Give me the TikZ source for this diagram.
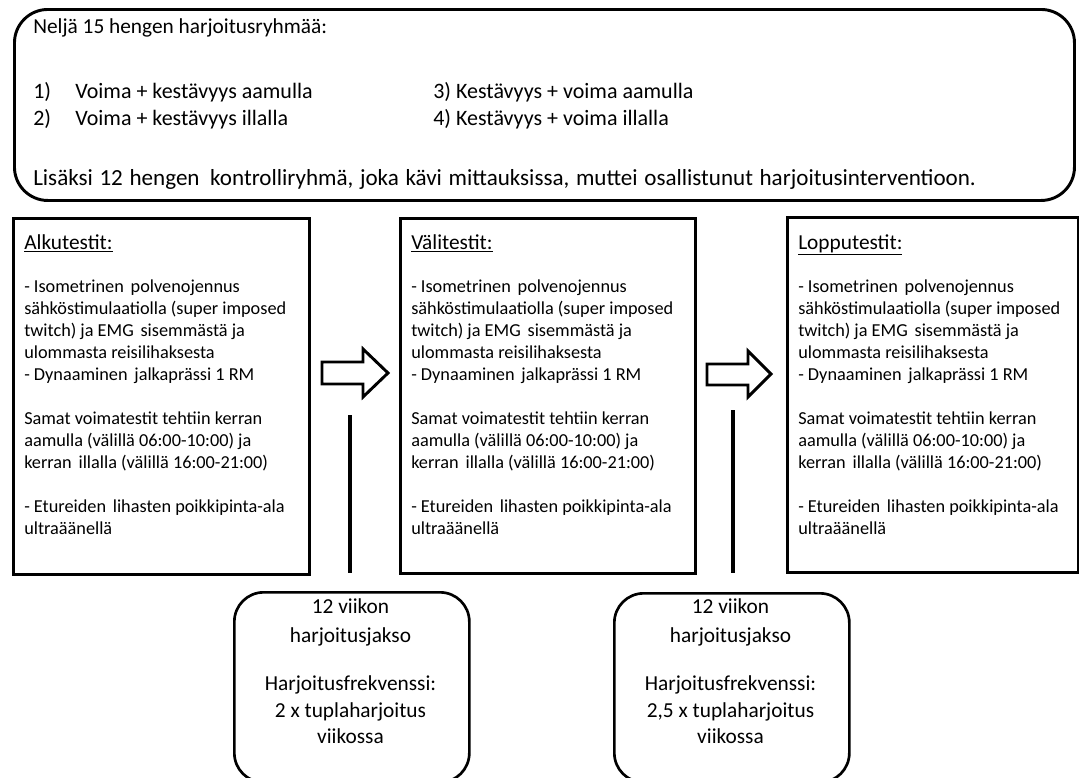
\documentclass[tikz,border=0pt]{standalone}
\usepackage{fontspec}
\setmainfont{Carlito}
\newcommand\testlines[3]{%
  \node[boxtitle] (#1t) at (#2,249) {\underline{#3}};
  \foreach \k/\t in {0/- Isometrinen\hspace{2pt} polvenojennus,
                     1/sähköstimulaatiolla (super imposed,
                     2/twitch) ja EMG\hspace{2pt} sisemmästä ja,
                     3/ulommasta reisilihaksesta,
                     4/- Dynaaminen\hspace{2pt} jalkaprässi 1 RM,
                     6/Samat voimatestit tehtiin kerran,
                     7/aamulla (välillä 06:00-10:00) ja,
                     8/kerran\hspace{2pt} illalla (välillä 16:00-21:00),
                     10/- Etureiden\hspace{2pt} lihasten poikkipinta-ala,
                     11/ultraäänellä}
    {\node[boxline] (#1l\k) at (#2,{292+22*\k}) {\t};}
}
\begin{document}
\begin{tikzpicture}[x=0.75pt,y=-0.75pt,
  topbox/.style={draw, line width=2.2pt, rounded corners=25pt, anchor=north west, inner sep=0},
  testbox/.style={draw, line width=2.4pt, anchor=north west, inner sep=0},
  periodbox/.style={draw, line width=2pt, rounded corners=22pt, anchor=north west, inner sep=0},
  toptext/.style={anchor=base west, inner sep=0, font=\fontsize{16.5}{20}\selectfont},
  headtext/.style={anchor=base west, inner sep=0, font=\fontsize{16}{20}\selectfont},
  longtext/.style={anchor=base west, inner sep=0, font=\fontsize{17.3}{20}\selectfont,
                   execute at begin node={\spaceskip=5pt plus 1pt}},
  boxline/.style={anchor=base west, inner sep=0, font=\fontsize{13.7}{16}\selectfont},
  boxtitle/.style={anchor=base west, inner sep=0, font=\fontsize{16}{19}\selectfont},
  pline/.style={anchor=base, inner sep=0, font=\fontsize{16}{19}\selectfont},
  blockarrow/.style={draw, line width=2.2pt, line join=miter, fill=white},
  link/.style={draw, line width=2.4pt}]
\useasboundingbox (0,0) rectangle (1079,778);

% top box
\node[topbox, minimum width=795pt, minimum height=143.25pt] (groups) at (13,8) {};
\node[headtext] (g0) at (33,33) {Neljä 15 hengen harjoitusryhmää:};
\node[toptext] (g1n) at (33,98) {1)};
\node[toptext] (g1) at (75,98) {Voima + kestävyys aamulla};
\node[toptext] (g2n) at (33,125) {2)};
\node[toptext] (g2) at (75,125) {Voima + kestävyys illalla};
\node[toptext] (g3) at (433,98) {3) Kestävyys + voima aamulla};
\node[toptext] (g4) at (433,125) {4) Kestävyys + voima illalla};
\node[longtext] (g5) at (33,185) {Lisäksi 12 hengen\hspace{3pt} kontrolliryhmä, joka kävi mittauksissa, muttei osallistunut harjoitusinterventioon.};

% test boxes
\node[testbox, minimum width=222pt, minimum height=267pt] (alku) at (12,217) {};
\node[testbox, minimum width=221.25pt, minimum height=266.25pt] (vali) at (399,217) {};
\node[testbox, minimum width=218.25pt, minimum height=266.25pt] (loppu) at (786,216) {};
\testlines{a}{24}{Alkutestit:}
\testlines{v}{411}{Välitestit:}
\testlines{p}{798}{Lopputestit:}

% block arrows
\draw[blockarrow] (322,362) -- (363,362) -- (363,349) -- (388,373) -- (363,397) -- (363,384) -- (322,384) -- cycle;
\draw[blockarrow] (707,364) -- (748,364) -- (748,351) -- (771,374) -- (748,397) -- (748,385) -- (707,385) -- cycle;

% vertical lines
\coordinate (l1a) at (350,415);
\coordinate (l1b) at (350,573);
\coordinate (l2a) at (733,410);
\coordinate (l2b) at (733,573);
\draw[link] (l1a) -- (l1b);
\draw[link] (l2a) -- (l2b);

% period boxes
\node[periodbox, minimum width=176.25pt, minimum height=142.5pt] (per1) at (233,591) {};
\node[periodbox, minimum width=176.25pt, minimum height=141.75pt] (per2) at (613,592) {};
\foreach \c/\n in {350.5/a, 730.5/b}{
  \node[pline] (\n1) at (\c,613) {12 viikon};
  \node[pline] (\n2) at (\c,642) {harjoitusjakso};
  \node[pline] (\n3) at (\c,690) {Harjoitusfrekvenssi:};
}
\node[pline] (a4) at (350.5,717) {2 x tuplaharjoitus};
\node[pline] (b4) at (730.5,717) {2,5 x tuplaharjoitus};
\node[pline] (a5) at (350.5,743) {viikossa};
\node[pline] (b5) at (730.5,743) {viikossa};
\end{tikzpicture}
\end{document}
